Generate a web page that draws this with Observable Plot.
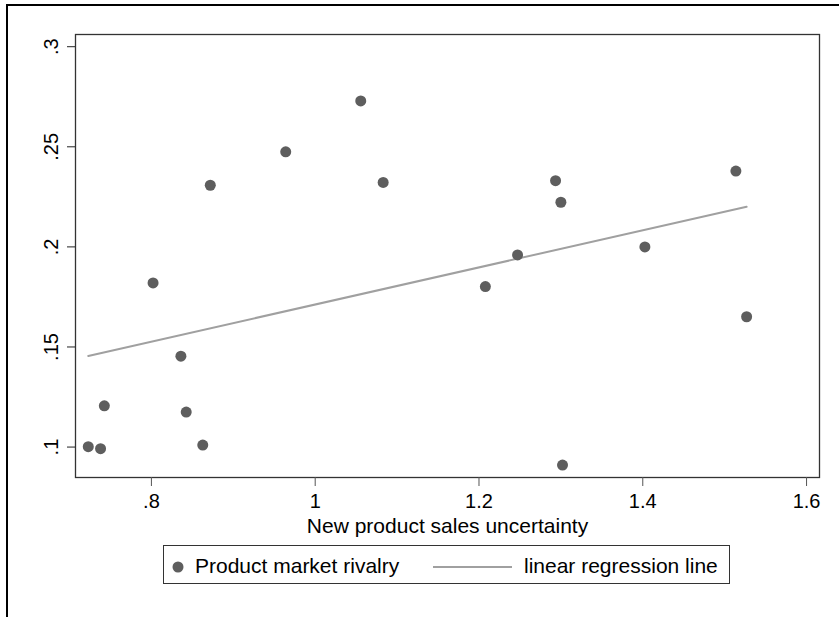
<!DOCTYPE html>
<html>
<head>
<meta charset="utf-8">
<script src="https://cdn.jsdelivr.net/npm/d3@7"></script>
<script src="https://cdn.jsdelivr.net/npm/@observablehq/plot@0.6"></script>
<style>
  html, body { margin: 0; padding: 0; background: #fff; width: 839px; height: 617px; overflow: hidden; }
  #outer { position: absolute; left: 6px; top: 4px; width: 900px; height: 700px;
           border-top: 2px solid #000; border-left: 2px solid #000; }
  #chart { position: absolute; left: 0; top: 0; }
  #legend { position: absolute; left: 163px; top: 545px; width: 567px; height: 39px;
            border: 1px solid #333; box-sizing: border-box;
            font-family: Arial, "Liberation Sans", sans-serif; font-size: 21px; color: #000; }
  #legend .item { position: absolute; top: 1px; height: 37px; line-height: 37px; white-space: nowrap; }
  #legend svg { position: absolute; top: 0; }
</style>
</head>
<body>
<div id="outer"></div>
<div id="chart"></div>
<div id="legend"></div>
<script>
// ---- data ----
const uncertainty = [0.7229, 0.7379, 0.7425, 0.802, 0.836, 0.8425, 0.8627, 0.8719, 0.964, 1.0556,
                     1.083, 1.2078, 1.2471, 1.2935, 1.300, 1.302, 1.4026, 1.5137, 1.5268];
const rivalry     = [0.1002, 0.0992, 0.1206, 0.182, 0.1454, 0.1175, 0.101, 0.2308, 0.2475, 0.2729,
                     0.2322, 0.1802, 0.196, 0.2331, 0.2223, 0.091, 0.200, 0.2379, 0.1651];
const xTicks = [0.8, 1, 1.2, 1.4, 1.6];
const yTicks = [0.1, 0.15, 0.2, 0.25, 0.3];
const xLabel = "New product sales uncertainty";
const seriesNames = ["Product market rivalry", "linear regression line"];

const data = uncertainty.map((x, i) => ({x, y: rivalry[i]}));
const fmt = v => String(+v.toFixed(4)).replace(/^0\./, ".");

const pointColor = "#5e5e5e";
const lineColor = "#a0a0a0";
const font = "Arial, 'Liberation Sans', sans-serif";

const chart = Plot.plot({
  width: 839,
  height: 540,
  marginLeft: 75,
  marginRight: 20,
  marginTop: 34,
  marginBottom: 63,
  style: {fontFamily: font, fontSize: "20px", color: "#000", background: "transparent", overflow: "visible"},
  x: {domain: [0.7073, 1.6158]},
  y: {domain: [0.0848, 0.3061]},
  marks: [
    Plot.frame({stroke: "#333", strokeWidth: 1.3}),
    Plot.axisX({ticks: xTicks, tickFormat: fmt, tickSize: 9, tickPadding: 7, label: null, fontSize: 20, stroke: "#555"}),
    Plot.axisX({ticks: [], label: xLabel, labelAnchor: "center", labelArrow: "none", labelOffset: 55, fontSize: 21}),
    Plot.axisY({ticks: yTicks, tickFormat: fmt, tickSize: 8, tickRotate: -90, tickPadding: 10, label: null, fontSize: 20, stroke: "#222"}),
    Plot.linearRegressionY(data, {x: "x", y: "y", ci: 0, stroke: lineColor, strokeWidth: 2}),
    Plot.dot(data, {x: "x", y: "y", r: 5.5, fill: pointColor, stroke: "none"})
  ]
});
document.getElementById("chart").append(chart);

// ---- legend ----
const legend = document.getElementById("legend");
const ns = "http://www.w3.org/2000/svg";
function mk(tag, attrs) { const e = document.createElementNS(ns, tag); for (const k in attrs) e.setAttribute(k, attrs[k]); return e; }
const s1 = mk("svg", {width: 20, height: 37, style: "left:8px"});
s1.append(mk("circle", {cx: 6, cy: 21, r: 5.5, fill: pointColor}));
legend.append(s1);
const t1 = document.createElement("div"); t1.className = "item"; t1.style.left = "31px"; t1.textContent = seriesNames[0]; legend.append(t1);
const s2 = mk("svg", {width: 82, height: 37, style: "left:268px"});
s2.append(mk("line", {x1: 1, x2: 80, y1: 21, y2: 21, stroke: lineColor, "stroke-width": 2}));
legend.append(s2);
const t2 = document.createElement("div"); t2.className = "item"; t2.style.left = "360px"; t2.textContent = seriesNames[1]; legend.append(t2);
</script>
</body>
</html>
